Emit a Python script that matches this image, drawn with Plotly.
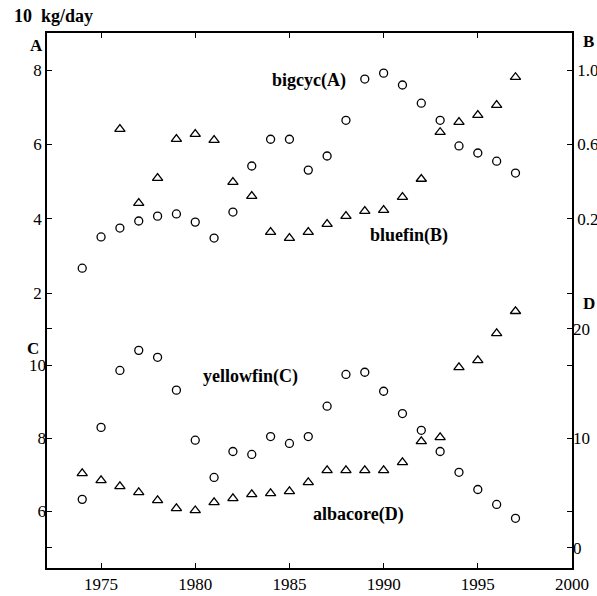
import plotly.graph_objects as go

# ---- data ----
years_A = list(range(1974, 1998))
bigeye_A = [2.67, 3.51, 3.75, 3.94, 4.07, 4.13, 3.91, 3.48, 4.18, 5.42, 6.14, 6.14,
            5.31, 5.69, 6.65, 7.76, 7.92, 7.60, 7.11, 6.65, 5.96, 5.77, 5.55, 5.23]

years_B = list(range(1976, 1998))
bluefin_B = [0.683, 0.284, 0.419, 0.629, 0.656, 0.623, 0.397, 0.322, 0.128, 0.096, 0.128,
             0.171, 0.214, 0.241, 0.247, 0.317, 0.414, 0.666, 0.720, 0.758, 0.812, 0.962]

years_C = list(range(1974, 1998))
yellowfin_C = [6.33, 8.30, 9.86, 10.41, 10.22, 9.32, 7.95, 6.93, 7.64, 7.56, 8.05, 7.86,
               8.05, 8.88, 9.75, 9.81, 9.29, 8.68, 8.22, 7.64, 7.07, 6.60, 6.19, 5.81]

years_D = list(range(1974, 1998))
albacore_D = [6.80, 6.16, 5.62, 5.07, 4.34, 3.61, 3.42, 4.16, 4.52, 4.89, 4.98, 5.16,
              5.98, 7.08, 7.08, 7.08, 7.08, 7.81, 9.73, 10.09, 16.48, 17.12, 19.59, 21.6]

x_ticks = [1975, 1980, 1985, 1990, 1995, 2000]
A_ticks = [2, 4, 6, 8]
B_ticks = [-0.2, 0.2, 0.6, 1.0]
B_text = ["", "0.2", "0.6", "1.0"]
C_ticks = [5, 6, 8, 10, 11]
C_text = ["", "6", "8", "10", ""]
D_ticks = [0, 10 / 3, 10, 50 / 3, 20]
D_text = ["0", "", "10", "", "20"]

FONT = "Liberation Serif"
W, H = 597, 596
# plot frame in page pixels: left 47, right 572, top 33, bottom 568
L, T = 47, 33
R, B = W - 572, H - 568
PW, PH = W - L - R, H - T - B


def px(xs):
    return (xs - L) / PW


def py(ys):
    return (H - B - ys) / PH


circ = dict(symbol="circle-open", size=8, color="black", line=dict(width=1.3, color="black"))
tri = dict(symbol="triangle-up-open", size=9, color="black", line=dict(width=1.3, color="black"))

fig = go.Figure()
fig.add_trace(go.Scatter(x=years_A, y=bigeye_A, mode="markers", marker=circ, yaxis="y", name="bigeye"))
fig.add_trace(go.Scatter(x=years_B, y=bluefin_B, mode="markers", marker=tri, yaxis="y2", name="bluefin"))
fig.add_trace(go.Scatter(x=years_C, y=yellowfin_C, mode="markers", marker=circ, yaxis="y3", name="yellowfin"))
fig.add_trace(go.Scatter(x=years_D, y=albacore_D, mode="markers", marker=tri, yaxis="y4", name="albacore"))

axis_common = dict(showgrid=False, zeroline=False, ticks="inside", ticklen=5, tickwidth=1.2,
                   tickcolor="black", automargin=False,
                   tickfont=dict(family=FONT, size=17, color="black"))

A_range = [-5.40, 9.0]
C_range = [4.45, 19.1]
B_range = [0.2 * A_range[0] - 0.6, 0.2 * A_range[1] - 0.6]
D_range = [(C_range[0] - 5) * 10 / 3, (C_range[1] - 5) * 10 / 3]

fig.update_layout(
    width=W, height=H,
    margin=dict(l=L, r=R, t=T, b=B, pad=0, autoexpand=False),
    paper_bgcolor="white", plot_bgcolor="white",
    showlegend=False,
    font=dict(family=FONT, size=17, color="black"),
    xaxis=dict(range=[1972.13, 2000], tickvals=x_ticks, mirror="ticks", showline=True,
               linecolor="black", linewidth=1.5, **axis_common),
    yaxis=dict(range=A_range, tickvals=A_ticks, showline=True, linecolor="black",
               linewidth=1.5, side="left", **axis_common),
    yaxis3=dict(range=C_range, tickvals=C_ticks, ticktext=C_text, overlaying="y",
                side="left", anchor="x", showline=False, **axis_common),
    yaxis2=dict(range=B_range, tickvals=B_ticks, ticktext=B_text, overlaying="y",
                side="right", anchor="x", showline=True, linecolor="black",
                linewidth=1.5, **axis_common),
    yaxis4=dict(range=D_range, tickvals=D_ticks, ticktext=D_text, overlaying="y",
                side="right", anchor="x", showline=False, **axis_common),
)

ann = [
    ("10\u00a0\u00a0kg/day", 12, 16, "left", 18),
    ("A", 36, 45, "center", 17),
    ("B", 588, 42, "center", 17),
    ("C", 33, 348, "center", 17),
    ("D", 589, 303, "center", 17),
    ("bigcyc(A)", 309, 80, "center", 18),
    ("bluefin(B)", 409, 235, "center", 18),
    ("yellowfin(C)", 250, 377, "center", 18),
    ("albacore(D)", 358, 514, "center", 18),
]
for text, xs, ys, anchor, size in ann:
    fig.add_annotation(x=px(xs), y=py(ys), xref="paper", yref="paper", text=f"<b>{text}</b>",
                       showarrow=False, xanchor=anchor, yanchor="middle",
                       font=dict(family=FONT, size=size, color="black"))

# remove the default page margin so the figure fills the window exactly
fig.write_html("out.html", config={"displayModeBar": False},
               post_script="document.body.style.margin='0';document.body.style.overflow='hidden';")
